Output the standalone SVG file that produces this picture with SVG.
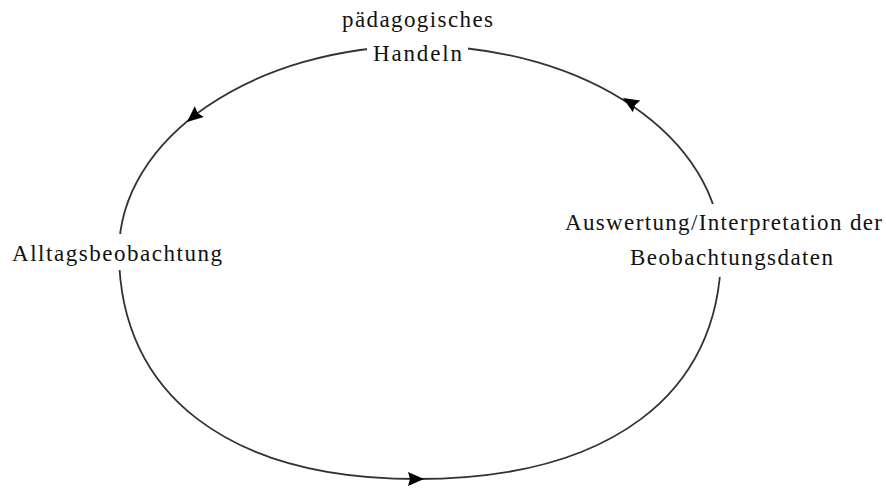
<svg xmlns="http://www.w3.org/2000/svg" xmlns:xlink="http://www.w3.org/1999/xlink" width="886" height="488" viewBox="0 0 886 488">
<style>
.lbl{font-family:"Liberation Serif","Times New Roman",serif;font-size:23px;fill:#111}
.bg{fill:#fff}
.cyc{fill:none;stroke:#333;stroke-width:1.8}
.ah{fill:#000}
</style>
<defs>
<path id="arr" d="M0,0 L-16,-7 L-14,0 L-16,7 Z"/>
</defs>
<rect width="886" height="488" fill="#fff"/>
<g id="connectors">
<path class="cyc" d="M420,46 C586.2,46 721,138.2 721,252 C721,395 608.5,479 417,479 C229.3,479 119,395 119,252 C119,138.2 253.8,46 420,46 Z"/>
<use xlink:href="#arr" class="ah" transform="translate(187,122) rotate(140)"/>
<use xlink:href="#arr" class="ah" transform="translate(623,98) rotate(211.7)"/>
<use xlink:href="#arr" class="ah" transform="translate(424,479) rotate(0)"/>
</g>
<g id="node-handeln">
<rect class="bg" x="367" y="36" width="101" height="24"/>
<text class="lbl" x="342" y="27" textLength="151" lengthAdjust="spacing">pädagogisches</text>
<text class="lbl" x="373" y="61" textLength="89" lengthAdjust="spacing">Handeln</text>
</g>
<g id="node-alltag">
<rect class="bg" x="5" y="234" width="225" height="36"/>
<text class="lbl" x="12" y="261" textLength="210" lengthAdjust="spacing">Alltagsbeobachtung</text>
</g>
<g id="node-auswertung">
<rect class="bg" x="560" y="204" width="326" height="73"/>
<text class="lbl" x="565" y="230" textLength="317" lengthAdjust="spacing">Auswertung/Interpretation der</text>
<text class="lbl" x="630" y="265" textLength="203" lengthAdjust="spacing">Beobachtungsdaten</text>
</g>
</svg>
